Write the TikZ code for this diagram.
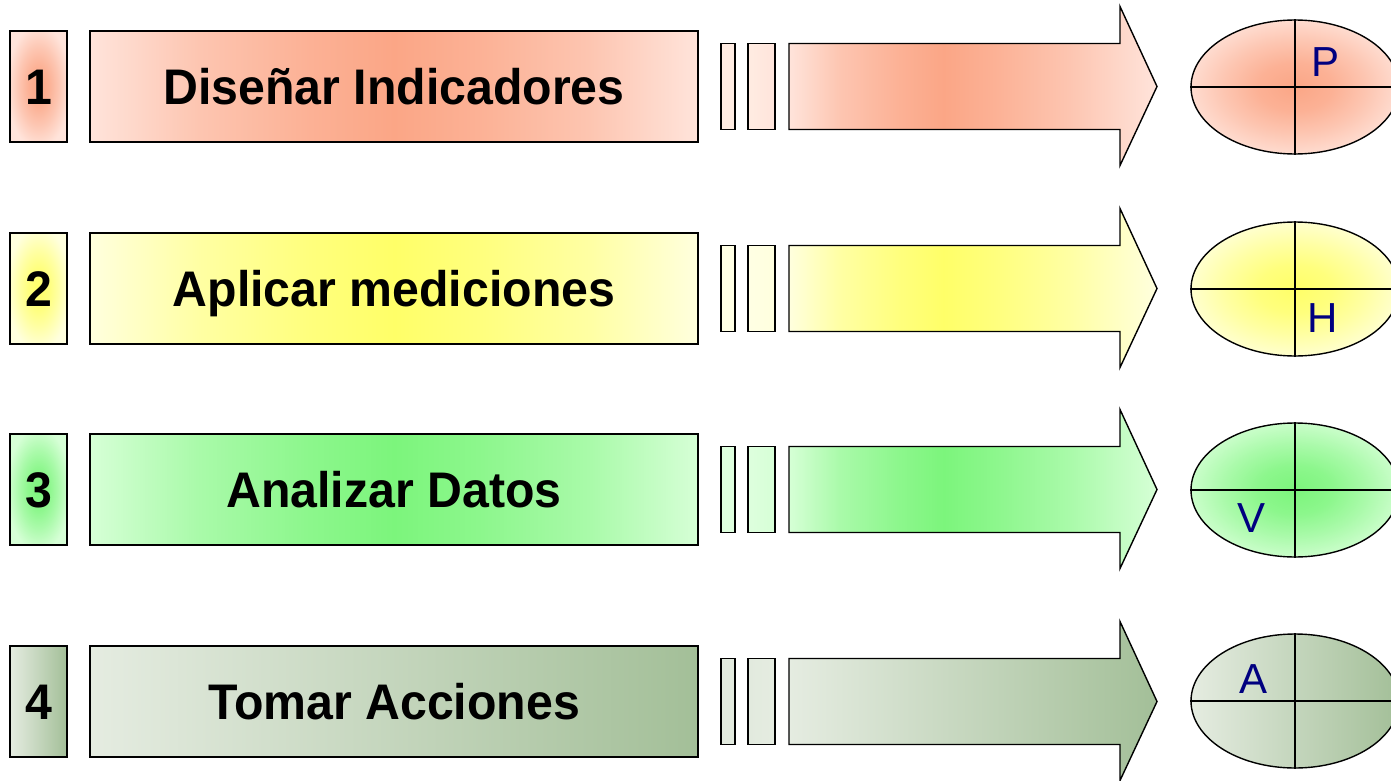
\documentclass[tikz,border=0pt]{standalone}
\usepackage{fontspec}
\usepackage{graphicx}
\setmainfont{Liberation Sans}
\usetikzlibrary{shapes.geometric}
\definecolor{d1}{RGB}{251,166,134}
\definecolor{l1}{RGB}{255,228,219}
\definecolor{b1}{RGB}{255,236,226}
\definecolor{d2}{RGB}{255,255,104}
\definecolor{l2}{RGB}{255,255,222}
\definecolor{b2}{RGB}{255,255,228}
\definecolor{d3}{RGB}{124,245,124}
\definecolor{l3}{RGB}{214,255,214}
\definecolor{b3}{RGB}{222,255,222}
\definecolor{d4}{RGB}{163,191,152}
\definecolor{l4}{RGB}{229,236,225}
\definecolor{b4}{RGB}{226,234,222}
\definecolor{navy}{RGB}{0,0,128}
\colorlet{m1}{d1!50!l1}\colorlet{k1}{d1!82!l1}
\colorlet{m2}{d2!50!l2}\colorlet{k2}{d2!82!l2}
\colorlet{m3}{d3!50!l3}\colorlet{k3}{d3!82!l3}
\pgfdeclarehorizontalshading{midA1}{100bp}{color(0bp)=(l1); color(25bp)=(l1); color(34bp)=(m1); color(43bp)=(k1); color(50bp)=(d1); color(57bp)=(k1); color(66bp)=(m1); color(75bp)=(l1); color(100bp)=(l1)}
\pgfdeclarehorizontalshading{midA2}{100bp}{color(0bp)=(l2); color(25bp)=(l2); color(34bp)=(m2); color(43bp)=(k2); color(50bp)=(d2); color(57bp)=(k2); color(66bp)=(m2); color(75bp)=(l2); color(100bp)=(l2)}
\pgfdeclarehorizontalshading{midA3}{100bp}{color(0bp)=(l3); color(25bp)=(l3); color(34bp)=(m3); color(43bp)=(k3); color(50bp)=(d3); color(57bp)=(k3); color(66bp)=(m3); color(75bp)=(l3); color(100bp)=(l3)}
\pgfdeclarehorizontalshading{arrA1}{100bp}{color(0bp)=(l1); color(25bp)=(l1); color(32bp)=(m1); color(40bp)=(k1); color(46bp)=(d1); color(53bp)=(k1); color(63bp)=(m1); color(75bp)=(l1); color(100bp)=(l1)}
\pgfdeclarehorizontalshading{arrA2}{100bp}{color(0bp)=(l2); color(25bp)=(l2); color(32bp)=(m2); color(40bp)=(k2); color(46bp)=(d2); color(53bp)=(k2); color(63bp)=(m2); color(75bp)=(l2); color(100bp)=(l2)}
\pgfdeclarehorizontalshading{arrA3}{100bp}{color(0bp)=(l3); color(25bp)=(l3); color(32bp)=(m3); color(40bp)=(k3); color(46bp)=(d3); color(53bp)=(k3); color(63bp)=(m3); color(75bp)=(l3); color(100bp)=(l3)}
\pgfdeclareradialshading{radA1}{\pgfpoint{0bp}{0bp}}{color(0bp)=(d1); color(9bp)=(k1); color(17bp)=(m1); color(28bp)=(l1); color(50bp)=(l1)}
\pgfdeclareradialshading{radA2}{\pgfpoint{0bp}{0bp}}{color(0bp)=(d2); color(9bp)=(k2); color(17bp)=(m2); color(28bp)=(l2); color(50bp)=(l2)}
\pgfdeclareradialshading{radA3}{\pgfpoint{0bp}{0bp}}{color(0bp)=(d3); color(9bp)=(k3); color(17bp)=(m3); color(28bp)=(l3); color(50bp)=(l3)}
\tikzset{
  frame/.style={draw=black, line width=1.4pt},
  linsh/.style 2 args={left color=#2, right color=#1},
  r1num/.style={shading=radA1}, r1box/.style={shading=midA1}, r1arr/.style={shading=arrA1}, r1ell/.style={shading=radA1},
  r2num/.style={shading=radA2}, r2box/.style={shading=midA2}, r2arr/.style={shading=arrA2}, r2ell/.style={shading=radA2},
  r3num/.style={shading=radA3}, r3box/.style={shading=midA3}, r3arr/.style={shading=arrA3}, r3ell/.style={shading=radA3},
  r4num/.style={linsh={d4}{l4}}, r4box/.style={linsh={d4}{l4}}, r4arr/.style={linsh={d4}{l4}}, r4ell/.style={linsh={d4}{l4}},
  bigtext/.style={font=\bfseries\fontsize{50}{50}\selectfont, text height=36pt, text depth=0pt, inner sep=0pt},
  lettertext/.style={font=\fontsize{42}{42}\selectfont, text=navy, text height=30pt, text depth=0pt, inner sep=0pt},
}
\newcommand\prow[8]{%
  % #1 row, #2 y, #3 number, #4 label, #5 letter, #6 letter dx, #7 letter dy, #8 ellipse y
  \node[frame, r#1num, minimum width=57, minimum height=111, inner sep=0pt] (num#1) at (38.5,#2) {};
  \node[bigtext] (numt#1) at (num#1.center) {\scalebox{0.965}[1]{#3}};
  \node[frame, r#1box, minimum width=608, minimum height=111, inner sep=0pt] (box#1) at (394,#2) {};
  \node[bigtext] (lab#1) at (box#1.center) {\scalebox{0.965}[1]{#4}};
  \node[frame, fill=b#1, minimum width=14, minimum height=86, inner sep=0pt] (bara#1) at (728,#2) {};
  \node[frame, left color=b#1, right color=l#1, minimum width=27, minimum height=86, inner sep=0pt] (barb#1) at (761.5,#2) {};
  \path[frame, r#1arr] (789,#2-43) -- (1120,#2-43) -- (1120,#2-80) -- (1157,#2) -- (1120,#2+79) -- (1120,#2+43) -- (789,#2+43) -- cycle;
  \node[frame, ellipse, r#1ell, minimum width=208, minimum height=134, inner sep=0pt] (ell#1) at (1295,#8) {};
  \draw[frame] (ell#1.west) -- (ell#1.east);
  \draw[frame] (ell#1.north) -- (ell#1.south);
  \node[lettertext] (let#1) at (1295+#6,#8+#7) {#5};
}
\begin{document}
\begin{tikzpicture}[x=1pt,y=-1pt]
\useasboundingbox (0,0) rectangle (1391,781);
\clip (0,0) rectangle (1391,781);
\prow{1}{86.5}{1}{Diseñar Indicadores}{P}{30}{-25}{87}
\prow{2}{288.5}{2}{Aplicar mediciones}{H}{28}{28}{289}
\prow{3}{489.5}{3}{Analizar Datos}{V}{-44}{27}{490}
\prow{4}{701.5}{4}{Tomar Acciones}{A}{-42}{-23}{701}
\end{tikzpicture}
\end{document}
